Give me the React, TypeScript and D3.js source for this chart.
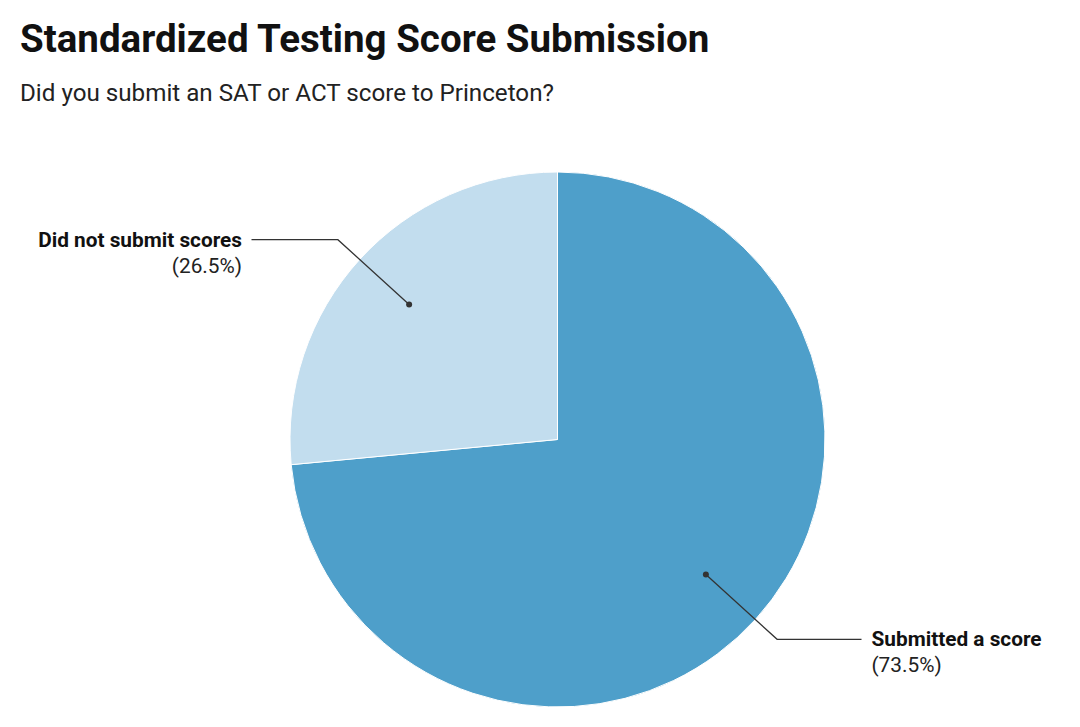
import React from "react";
import * as d3 from "d3";

const categories = ["Submitted a score", "Did not submit scores"];
const values = [73.5, 26.5];
const colors = ["#4e9fca", "#c2ddee"];
const percentLabels = ["(73.5%)", "(26.5%)"];

const W = 1080;
const H = 727;
const cx = 557.5;
const cy = 439.5;
const R = 267.5;

export default function App() {
  const pie = d3.pie<number>().sort(null).value((d) => d);
  const arcs = pie(values);
  const arcGen = d3.arc<d3.PieArcDatum<number>>().innerRadius(0).outerRadius(R);
  const dotArc = d3.arc<d3.PieArcDatum<number>>().innerRadius(R * 0.5).outerRadius(R);
  const elbowArc = d3.arc<d3.PieArcDatum<number>>().innerRadius(R * 1.1).outerRadius(R * 1.12);

  return (
    <svg
      width={W}
      height={H}
      style={{ position: "absolute", left: 0, top: 0, background: "#fff" }}
      fontFamily="Roboto, sans-serif"
    >
      <text x={20} y={52} fontSize={38.5} fontWeight={700} fill="#111">
        Standardized Testing Score Submission
      </text>
      <text x={20} y={101} fontSize={24.2} fill="#222">
        Did you submit an SAT or ACT score to Princeton?
      </text>
      <g transform={`translate(${cx},${cy})`}>
        {arcs.map((a, i) => (
          <path key={i} d={arcGen(a) || ""} fill={colors[i]} stroke="#fff" strokeWidth={1} />
        ))}
        {arcs.map((a, i) => {
          const [dx, dy] = dotArc.centroid(a);
          const [ex, ey] = elbowArc.centroid(a);
          const right = ex > 0;
          const hx = right ? 304 : -306;
          const tx = right ? 314 : -315.5;
          return (
            <g key={"l" + i}>
              <polyline
                points={`${dx},${dy} ${ex},${ey} ${hx},${ey}`}
                fill="none"
                stroke="#333"
                strokeWidth={1.3}
              />
              <circle cx={dx} cy={dy} r={3} fill="#333" />
              <text
                x={tx}
                y={ey + 7}
                fontSize={20.8}
                fontWeight={700}
                fill="#111"
                textAnchor={right ? "start" : "end"}
              >
                {categories[i]}
              </text>
              <text
                x={tx}
                y={ey + 33}
                fontSize={20.8}
                fill="#222"
                textAnchor={right ? "start" : "end"}
              >
                {percentLabels[i]}
              </text>
            </g>
          );
        })}
      </g>
    </svg>
  );
}
